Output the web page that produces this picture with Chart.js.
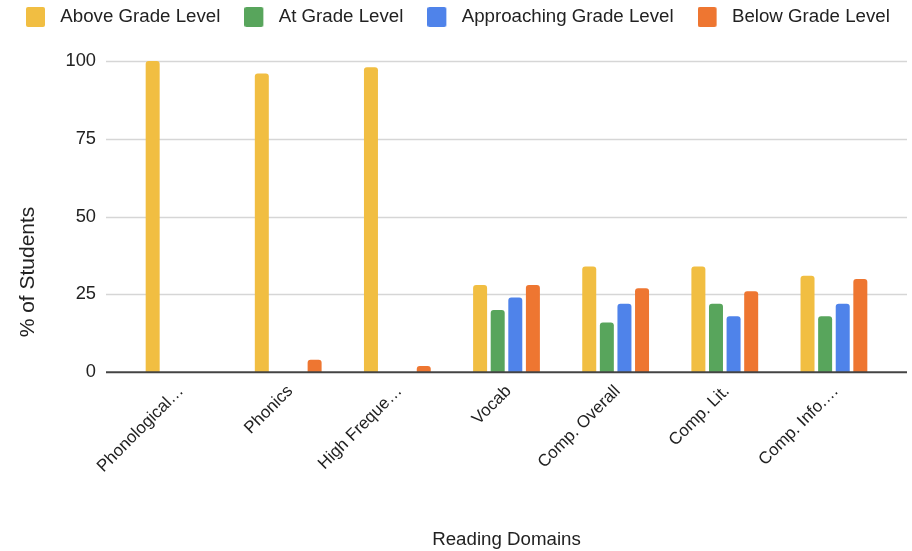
<!DOCTYPE html>
<html>
<head>
<meta charset="utf-8">
<script src="https://cdn.jsdelivr.net/npm/chart.js@4/dist/chart.umd.min.js"></script>
<style>
  html, body { margin: 0; padding: 0; background: #ffffff; }
  #wrap { width: 912px; height: 551px; position: relative; }
</style>
</head>
<body>
<div id="wrap"><canvas id="chart"></canvas></div>
<script>
// Reading domains and percentage of students per performance band
const domains = ["Phonological\u2026", "Phonics", "High Freque\u2026", "Vocab", "Comp. Overall", "Comp. Lit.", "Comp. Info.\u2026"];
const aboveGrade       = [100, 96, 98, 28, 34, 34, 31];
const atGrade          = [0, 0, 0, 20, 16, 22, 18];
const approachingGrade = [0, 0, 0, 24, 22, 18, 22];
const belowGrade       = [0, 4, 2, 28, 27, 26, 30];
const yTicks = [0, 25, 50, 75, 100];

const SANS = "'Liberation Sans', Arial, Helvetica, sans-serif";
const TEXT = "#222222";

// Legend swatch: a rounded square on the left of a wider transparent cell,
// so the label text sits a little further from the colour box
function swatch(color) {
  const c = document.createElement("canvas");
  c.width = 25; c.height = 20;
  const g = c.getContext("2d");
  g.fillStyle = color;
  g.beginPath();
  g.roundRect(0, 0, 19, 20, 2);
  g.fill();
  return c;
}

// Horizontal gridlines and baseline run a bit wider than the bar area
const wideGrid = {
  id: "wideGrid",
  beforeDatasetsDraw(chart) {
    const y = chart.scales.y, ctx = chart.ctx;
    ctx.save();
    ctx.strokeStyle = "#d6d6d6";
    ctx.lineWidth = 1.5;
    yTicks.forEach(v => {
      if (v === 0) return;
      const py = Math.round(y.getPixelForValue(v)) + 0.5;
      ctx.beginPath(); ctx.moveTo(106, py); ctx.lineTo(907, py); ctx.stroke();
    });
    ctx.restore();
  },
  afterDatasetsDraw(chart) {
    const y = chart.scales.y, ctx = chart.ctx;
    const py = y.getPixelForValue(0);
    ctx.save();
    ctx.strokeStyle = "#444444";
    ctx.lineWidth = 2;
    ctx.beginPath(); ctx.moveTo(106, py); ctx.lineTo(907, py); ctx.stroke();
    ctx.restore();
  }
};

// Legend sits close to the top edge, starting near the left margin
const legendPlacement = {
  id: "legendPlacement",
  afterLayout(chart) {
    const lg = chart.legend;
    const pad = lg.options.labels.padding;
    const dx = 26 - (lg.left + pad);
    const dy = 7.6 - (lg.top + pad);
    lg.left += dx; lg.right += dx;
    lg.top += dy; lg.bottom += dy;
  }
};

// Vertical axis caption, centred on the canvas height
const yCaption = {
  id: "yCaption",
  afterDraw(chart) {
    const ctx = chart.ctx;
    ctx.save();
    ctx.translate(28, 272);
    ctx.rotate(-Math.PI / 2);
    ctx.font = "21px " + SANS;
    ctx.fillStyle = TEXT;
    ctx.textAlign = "center";
    ctx.textBaseline = "middle";
    ctx.fillText("% of Students", 0, 0);
    ctx.restore();
  }
};

function series(label, data, color) {
  return {
    label, data,
    backgroundColor: color,
    borderWidth: 0,
    borderRadius: 3,
    categoryPercentage: 0.645,
    barPercentage: 0.795
  };
}

new Chart(document.getElementById("chart"), {
  type: "bar",
  data: {
    labels: domains,
    datasets: [
      series("Above Grade Level", aboveGrade, "#F1BE42"),
      series("At Grade Level", atGrade, "#58A55C"),
      series("Approaching Grade Level", approachingGrade, "#4F83EA"),
      series("Below Grade Level", belowGrade, "#EE7631")
    ]
  },
  options: {
    responsive: true,
    maintainAspectRatio: false,
    animation: false,
    layout: { padding: { top: 8.3, right: 0, bottom: 0, left: 0 } },
    plugins: {
      tooltip: { enabled: false },
      legend: {
        position: "top",
        align: "start",
        labels: {
          font: { family: SANS, size: 18.7 },
          color: TEXT,
          usePointStyle: true,
          pointStyleWidth: 25,
          boxHeight: 20,
          padding: 24,
          generateLabels(chart) {
            const items = Chart.defaults.plugins.legend.labels.generateLabels(chart);
            items.forEach(it => { it.pointStyle = swatch(it.fillStyle); });
            return items;
          }
        }
      }
    },
    scales: {
      x: {
        grid: { display: false, drawTicks: false },
        border: { display: false },
        ticks: {
          font: { family: SANS, size: 17 },
          color: TEXT,
          maxRotation: 45,
          minRotation: 45,
          autoSkip: false,
          padding: 9,
          labelOffset: 2
        },
        title: {
          display: true,
          text: "Reading Domains",
          font: { family: SANS, size: 18.7 },
          color: TEXT,
          padding: { top: 43, bottom: 0 }
        }
      },
      y: {
        min: 0,
        max: 100,
        grid: { display: false, drawTicks: false },
        border: { display: false },
        afterBuildTicks(scale) { scale.ticks = yTicks.map(v => ({ value: v })); },
        afterFit(scale) { scale.width = 124.5; },
        ticks: {
          font: { family: SANS, size: 18.3 },
          color: TEXT,
          padding: 28.5
        },
        title: { display: false }
      },
      // empty right-hand margin beside the bars
      margin: {
        position: "right",
        grid: { display: false, drawTicks: false },
        border: { display: false },
        ticks: { display: false },
        afterFit(scale) { scale.width = 23.5; }
      }
    }
  },
  plugins: [wideGrid, legendPlacement, yCaption]
});
</script>
</body>
</html>
